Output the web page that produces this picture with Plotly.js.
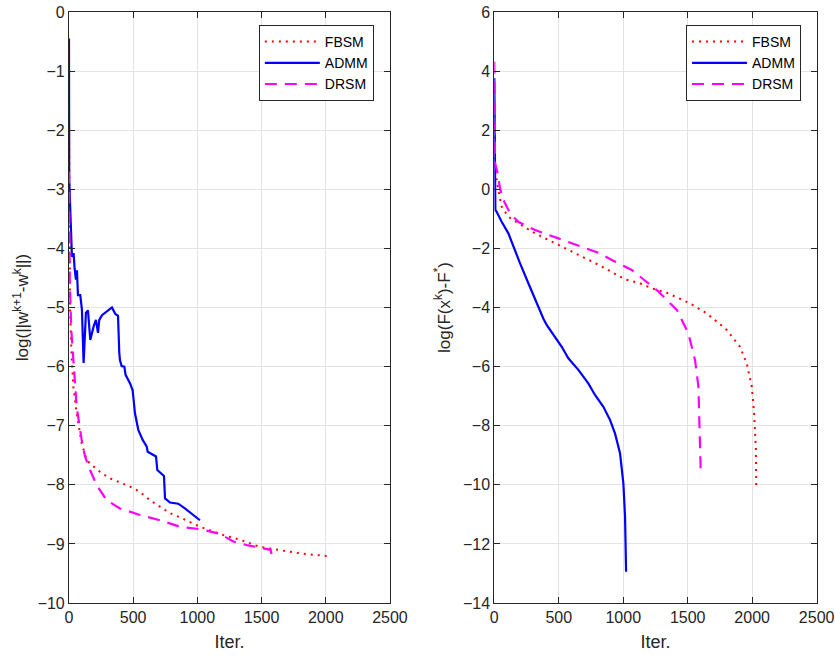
<!DOCTYPE html>
<html>
<head>
<meta charset="utf-8">
<script src="https://cdn.plot.ly/plotly-3.0.1.min.js"></script>
<style>html,body{margin:0;padding:0;background:#fff;}#chart{width:835px;height:656px;}</style>
</head>
<body>
<div id="chart"></div>
<script>
// ---- Left panel: log(||w^{k+1}-w^k||) ----
const admmL_x = [0, 2, 23, 36, 44, 54, 62, 70, 88, 101, 114, 132, 148, 166, 192, 210, 226, 236, 257, 296, 335, 361, 382, 392, 397, 410, 431, 441, 475, 496, 514, 540, 574, 605, 613, 678, 688, 740, 748, 787, 851, 903, 968, 1020];
const admmL_y = [-0.45, -2.84, -4.14, -4.08, -4.34, -4.53, -4.37, -4.79, -4.79, -5.04, -5.94, -5.09, -5.05, -5.55, -5.32, -5.21, -5.43, -5.21, -5.13, -5.07, -5.0, -5.11, -5.14, -5.77, -5.89, -5.99, -6.0, -6.14, -6.28, -6.40, -6.79, -7.07, -7.24, -7.35, -7.44, -7.52, -7.75, -7.85, -8.23, -8.30, -8.32, -8.40, -8.51, -8.60];

const fbsmL_x = [0, 3, 5, 8, 20, 34, 60, 99, 138, 164, 241, 319, 475, 553, 631, 709, 787, 864, 1020, 1202, 1332, 1487, 1643, 1799, 2030];
const fbsmL_y = [-1.6, -3.0, -4.2, -4.99, -5.8, -6.34, -6.79, -7.3, -7.58, -7.64, -7.78, -7.89, -8.03, -8.12, -8.26, -8.37, -8.48, -8.55, -8.71, -8.85, -8.93, -9.05, -9.10, -9.16, -9.21];

const drsmL_x = [0, 3, 6, 18, 34, 60, 99, 125, 164, 215, 293, 397, 553, 709, 864, 1020, 1176, 1280, 1384, 1540, 1571, 1580];
const drsmL_y = [-2.7, -3.8, -4.53, -5.38, -5.94, -6.68, -7.24, -7.52, -7.75, -8.0, -8.26, -8.40, -8.51, -8.60, -8.71, -8.75, -8.83, -8.96, -9.02, -9.08, -9.10, -9.2];

// ---- Right panel: log(F(x^k)-F^*) ----
const admmR_x = [0, 3, 6, 8, 18, 57, 109, 147, 199, 264, 329, 380, 406, 471, 523, 574, 652, 729, 781, 846, 898, 936, 975, 1001, 1014, 1022];
const admmR_y = [3.77, 1.5, 0.0, -0.70, -0.76, -1.10, -1.49, -1.94, -2.50, -3.18, -3.86, -4.37, -4.59, -4.99, -5.33, -5.72, -6.11, -6.57, -6.96, -7.36, -7.81, -8.26, -8.93, -9.95, -11.08, -12.94];

const fbsmR_x = [0, 3, 31, 57, 109, 186, 316, 523, 756, 820, 1014, 1130, 1221, 1337, 1518, 1648, 1803, 1906, 1958, 1997, 2015, 2028, 2032];
const fbsmR_y = [2.5, 0.76, -0.02, -0.59, -0.93, -1.15, -1.49, -1.94, -2.45, -2.58, -3.05, -3.18, -3.35, -3.5, -3.86, -4.20, -4.76, -5.33, -5.89, -6.68, -7.58, -8.71, -10.06];

const drsmR_x = [0, 2, 5, 26, 44, 70, 122, 186, 316, 497, 704, 820, 911, 1066, 1260, 1415, 1505, 1557, 1583, 1596, 1601];
const drsmR_y = [4.32, 2.0, 0.9, 0.54, 0.03, -0.36, -0.81, -1.10, -1.38, -1.66, -2.0, -2.17, -2.39, -2.73, -3.41, -4.08, -4.87, -5.78, -6.68, -8.26, -9.56];

const xTicks = [0, 500, 1000, 1500, 2000, 2500];
const yTicksL = [-10, -9, -8, -7, -6, -5, -4, -3, -2, -1, 0];
const yTicksR = [-14, -12, -10, -8, -6, -4, -2, 0, 2, 4, 6];
const names = ['FBSM', 'ADMM', 'DRSM'];

const RED = '#ff0000', BLUE = '#0000ff', MAG = '#ff00ff';
const fbsmLine = {color: RED, width: 2, dash: '2px,5px'};
const admmLine = {color: BLUE, width: 2.2};
const drsmLine = {color: MAG, width: 2.2, dash: '12px,8px'};

const traces = [
  {x: fbsmL_x, y: fbsmL_y, name: names[0], mode: 'lines', line: fbsmLine, xaxis: 'x', yaxis: 'y', legend: 'legend'},
  {x: admmL_x, y: admmL_y, name: names[1], mode: 'lines', line: admmLine, xaxis: 'x', yaxis: 'y', legend: 'legend'},
  {x: drsmL_x, y: drsmL_y, name: names[2], mode: 'lines', line: drsmLine, xaxis: 'x', yaxis: 'y', legend: 'legend'},
  {x: fbsmR_x, y: fbsmR_y, name: names[0], mode: 'lines', line: fbsmLine, xaxis: 'x2', yaxis: 'y2', legend: 'legend2'},
  {x: admmR_x, y: admmR_y, name: names[1], mode: 'lines', line: admmLine, xaxis: 'x2', yaxis: 'y2', legend: 'legend2'},
  {x: drsmR_x, y: drsmR_y, name: names[2], mode: 'lines', line: drsmLine, xaxis: 'x2', yaxis: 'y2', legend: 'legend2'}
];

const FONT = 'Liberation Sans, Arial, Helvetica, sans-serif';
const AX = '#262626';
function axisBase() {
  return {
    showgrid: true, gridcolor: '#e3e3e3', gridwidth: 1,
    zeroline: false, showline: true, linecolor: AX, linewidth: 1,
    mirror: 'ticks', ticks: 'inside', ticklen: 6, tickcolor: AX, tickwidth: 1,
    tickfont: {family: FONT, size: 16, color: AX}, fixedrange: true
  };
}

const layout = {
  width: 835, height: 656,
  margin: {l: 0, r: 0, t: 12, b: 53},
  paper_bgcolor: '#ffffff', plot_bgcolor: '#ffffff',
  font: {family: FONT, color: AX},
  showlegend: true,
  xaxis: Object.assign(axisBase(), {domain: [0.0826, 0.467], range: [0, 2500], tickvals: xTicks, anchor: 'y',
    title: {text: 'Iter.', font: {family: FONT, size: 18, color: AX}, standoff: 10}}),
  yaxis: Object.assign(axisBase(), {domain: [0, 1], range: [-10, 0], tickvals: yTicksL, anchor: 'x',
    title: {text: 'log(||w<sup>k+1</sup>-w<sup>k</sup>||)', font: {family: FONT, size: 17, color: AX}, standoff: 4}}),
  xaxis2: Object.assign(axisBase(), {domain: [0.592, 0.978], range: [0, 2500], tickvals: xTicks, anchor: 'y2',
    title: {text: 'Iter.', font: {family: FONT, size: 18, color: AX}, standoff: 10}}),
  yaxis2: Object.assign(axisBase(), {domain: [0, 1], range: [-14, 6], tickvals: yTicksR, anchor: 'x2',
    title: {text: 'log(F(x<sup>k</sup>)-F<sup>*</sup>)', font: {family: FONT, size: 17, color: AX}, standoff: 8}}),
  legend: {x: 0.310, y: 0.978, xanchor: 'left', yanchor: 'top', bgcolor: '#ffffff', bordercolor: AX, borderwidth: 1,
    font: {family: FONT, size: 14, color: '#000'}, itemwidth: 55, tracegroupgap: 0},
  legend2: {x: 0.8216, y: 0.978, xanchor: 'left', yanchor: 'top', bgcolor: '#ffffff', bordercolor: AX, borderwidth: 1,
    font: {family: FONT, size: 14, color: '#000'}, itemwidth: 55, tracegroupgap: 0}
};

Plotly.newPlot('chart', traces, layout, {displayModeBar: false, staticPlot: true});
</script>
</body>
</html>
